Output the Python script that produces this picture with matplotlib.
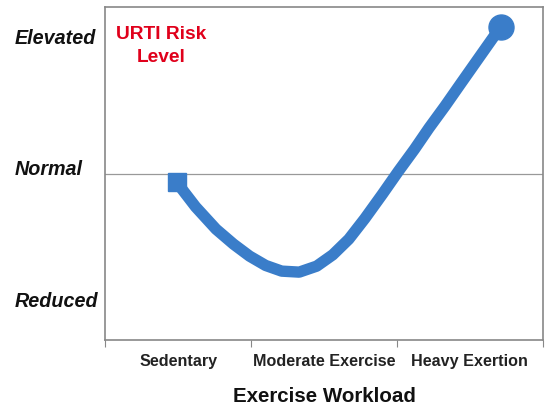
import matplotlib.pyplot as plt

# J-curve: URTI risk vs exercise workload
workload = [0.49, 0.62, 0.76, 0.88, 0.99, 1.10, 1.21, 1.33, 1.45, 1.56, 1.67, 1.78, 1.90, 2.01, 2.12, 2.22, 2.33, 2.44, 2.57, 2.71]
risk = [4.74, 4.00, 3.33, 2.88, 2.52, 2.24, 2.07, 2.04, 2.22, 2.56, 3.03, 3.65, 4.38, 5.07, 5.73, 6.37, 7.03, 7.72, 8.53, 9.40]

categories = ["Sedentary", "Moderate Exercise", "Heavy Exertion"]
levels = ["Elevated", "Normal", "Reduced"]
level_pos = [9.1, 5.15, 1.2]
normal = 5.0

blue = "#3a7dc9"
plt.rcParams["font.family"] = ["Liberation Sans", "DejaVu Sans"]

fig = plt.figure(figsize=(5.45, 4.06), dpi=100)
ax = fig.add_axes([0.193, 0.160, 0.803, 0.820])

ax.axhline(normal, color="#999999", lw=0.9, zorder=1)
ax.plot(workload, risk, color=blue, lw=8.2, solid_capstyle="round", solid_joinstyle="round", zorder=2)
ax.plot(workload[0], risk[0], "s", color=blue, ms=13.5, zorder=3)
ax.plot(workload[-1], risk[-1], "o", color=blue, ms=18, zorder=3)

ax.set_xlim(0, 3)
ax.set_ylim(0, 10)

ax.set_xticks([0, 1, 2, 3])
ax.set_xticklabels([])
ax.set_xticks([0.5, 1.5, 2.5], minor=True)
ax.set_xticklabels(categories, minor=True, fontsize=11.6, fontweight="bold", color="#222222")
ax.tick_params(axis="x", which="major", length=5, color="#888888")
ax.tick_params(axis="x", which="minor", length=0, pad=9)
ax.set_yticks([])

for lab, y in zip(levels, level_pos):
    ax.text(15 / 545, y / 10 * 0.820 + 0.160, lab,
            ha="left", va="center", fontsize=14.2, fontweight="bold",
            fontstyle="italic", color="#111111", transform=fig.transFigure)

ax.text(0.385, 8.85, "URTI Risk\nLevel", ha="center", va="center", fontsize=13.8,
        fontweight="bold", color="#e0001b", linespacing=1.45)

ax.set_xlabel("Exercise Workload", fontsize=14.8, fontweight="bold", color="#111111", labelpad=13)

for s in ax.spines.values():
    s.set_color("#888888")
    s.set_linewidth(1.2)

fig.savefig("out.png", dpi=100)
